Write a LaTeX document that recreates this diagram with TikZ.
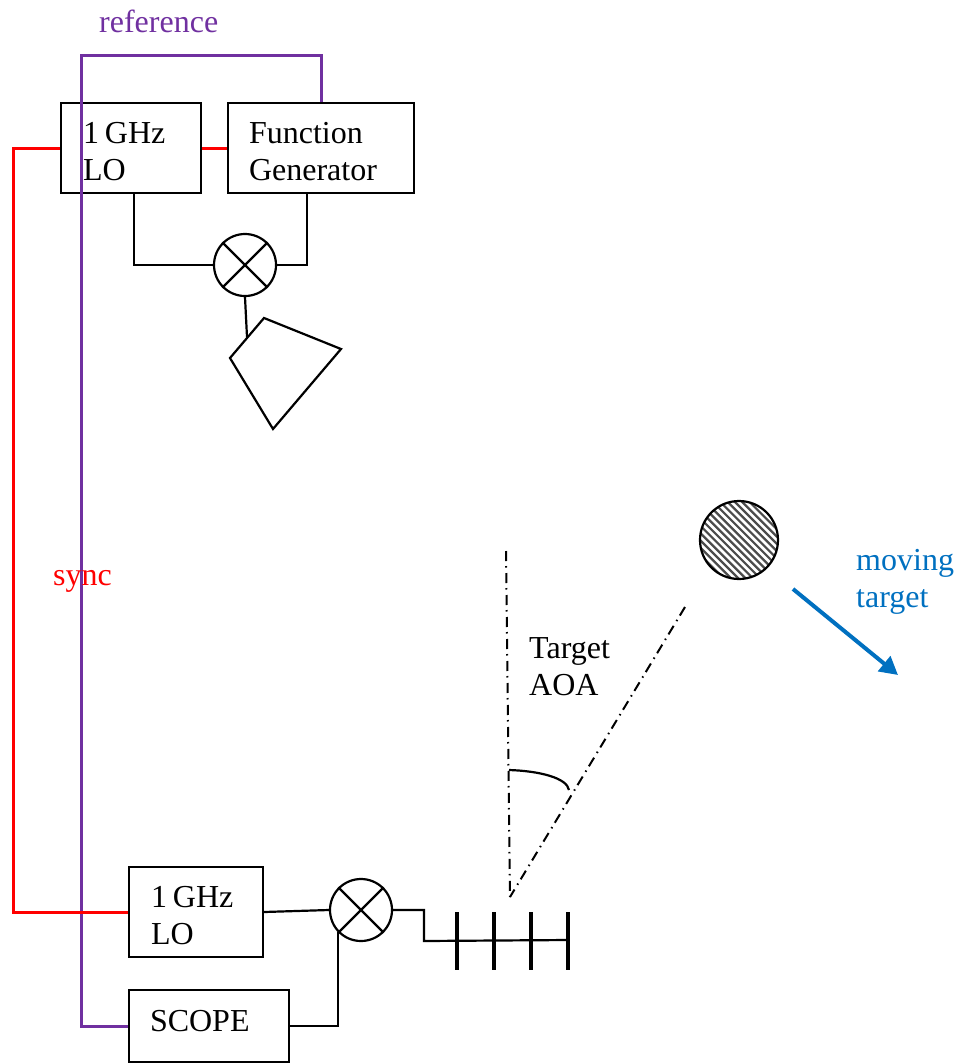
\documentclass[tikz,border=0pt]{standalone}
\usepackage{fontspec}
\setmainfont{Liberation Serif}
\usetikzlibrary{arrows.meta}
\definecolor{refpurple}{HTML}{7030A0}
\definecolor{targetblue}{HTML}{0070C0}
\tikzset{
  wire/.style={line width=2.2pt,black,line join=miter},
  redwire/.style={line width=3pt,red},
  purplewire/.style={line width=3pt,refpurple},
  blk/.style={draw=black,line width=2.2pt,inner sep=0pt,text width=#1,minimum width=#1,align=left,text depth=31pt},
  mixer/.style={draw=black,line width=2.2pt,circle,fill=white,minimum size=62pt,inner sep=0pt},
  lbl/.style={inner sep=0pt,anchor=base west,align=left},
  sightline/.style={line width=2pt,dash pattern=on 10pt off 5pt on 1.5pt off 5.5pt}
}
\newcommand{\txt}{\fontsize{32}{37}\selectfont}
\begin{document}
\begin{tikzpicture}[x=1pt,y=-1pt,every node/.append style={font=\txt}]
\useasboundingbox (0,0) rectangle (958,1063);
% blocks
\node[blk=140pt,minimum height=90pt] (lo1) at (131,148) {\spaceskip=6pt\relax\hspace*{22pt}1 GHz\\\hspace*{22pt}LO};
\node[blk=186pt,minimum height=90pt] (fg) at (321,148) {\hspace*{21pt}Function\\\hspace*{21pt}Generator};
\node[blk=134pt,minimum height=90pt] (lo2) at (196,912) {\spaceskip=6pt\relax\hspace*{22pt}1 GHz\\\hspace*{22pt}LO};
\node[blk=160pt,minimum height=72pt,text depth=11pt] (scope) at (209,1026) {\hspace*{21pt}SCOPE};
% mixers
\node[mixer] (m1) at (245,265) {};
\node[mixer] (m2) at (361,910) {};
\draw[wire] (m1.45) -- (m1.225) (m1.135) -- (m1.-45);
\draw[wire] (m2.45) -- (m2.225) (m2.135) -- (m2.-45);
% horn
\coordinate (hornfeed) at (247,337);
\draw[wire] (264,318) -- (341,349) -- (273,429) -- (230,358) -- cycle;
% control signals
\coordinate (pcorner) at (81,55);
\coordinate (rcorner) at (13,148);
\draw[purplewire] (fg.north) |- (pcorner) |- (scope.west);
\draw[redwire] (lo1.west) -- (rcorner) |- (lo2.west);
\draw[redwire] (lo1.east) -- (fg.west);
% black wiring
\draw[wire] ([xshift=74pt]lo1.south west) |- (m1.west);
\draw[wire] ([xshift=80pt]fg.south west) |- (m1.east);
\draw[wire] (m1.south) -- (hornfeed);
\draw[wire] (lo2.east) -- (m2.west);
\coordinate (m2in) at (338,932);
\draw[wire] (scope.east) -| (m2in);
\coordinate (feedstart) at (424,941);
\coordinate (feedend) at (569,940);
\draw[wire] (m2.east) -| (feedstart) -- (feedend);
% antenna array
\foreach \x in {457,494,531,568}
  \draw[line width=4pt] (\x,912) -- (\x,970);
% target
\begin{scope}
  \clip (739,540) circle (39pt);
  \foreach \i in {-16,...,16}
    \draw[line width=2.2pt,black!70] (700+\i*7.3-60,480) -- (700+\i*7.3+160,700);
\end{scope}
\node[circle,draw=black,line width=2.2pt,minimum size=78pt,inner sep=0pt] (tgt) at (739,540) {};
\coordinate (vtop) at (506,551);
\coordinate (apex) at (510,897);
\coordinate (stop) at (685,607);
\draw[sightline] (vtop) -- (apex);
\draw[sightline] (stop) -- (apex);
\draw[wire] (509,770) .. controls (540,771) and (567,778) .. (569,790);
% motion arrow
\coordinate (mvs) at (793,589);
\coordinate (mve) at (898,675);
\draw[line width=4pt,targetblue,-{Triangle[length=18pt,width=19pt]}] (mvs) -- (mve);
% labels
\node[lbl,text=refpurple] (reflbl) at (99,32) {reference};
\node[lbl,text=red] (synclbl) at (53,585) {sync};
\node[lbl,text=targetblue] (mvlbl1) at (856,570) {moving};
\node[lbl,text=targetblue] (mvlbl2) at (856,607) {target};
\node[lbl] (aoa1) at (529,658) {Target};
\node[lbl] (aoa2) at (529,695) {AOA};
\end{tikzpicture}
\end{document}
